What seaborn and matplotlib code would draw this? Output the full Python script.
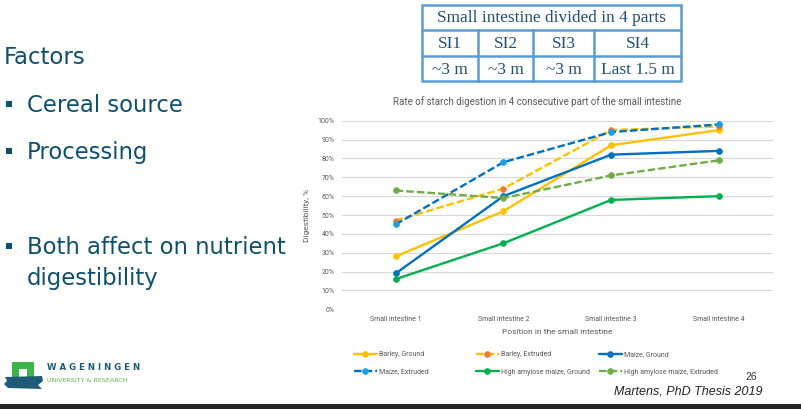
import matplotlib
matplotlib.use("Agg")
import matplotlib.pyplot as plt
import seaborn as sns
from matplotlib.patches import Rectangle, Polygon

# ==========================================
# Data
# ==========================================

positions = ["Small intestine 1", "Small intestine 2", "Small intestine 3", "Small intestine 4"]

barley_ground = [28, 52, 87, 95]
barley_extruded = [47, 64, 95, 97]
maize_ground = [19, 60, 82, 84]
maize_extruded = [45, 78, 94, 98]
ha_maize_ground = [16, 35, 58, 60]
ha_maize_extruded = [63, 59, 71, 79]

series_names = [
    "Barley, Ground",
    "Barley, Extruded",
    "Maize, Ground",
    "Maize, Extruded",
    "High amylose maize, Ground",
    "High amylose maize, Extruded",
]
series_values = [barley_ground, barley_extruded, maize_ground,
                 maize_extruded, ha_maize_ground, ha_maize_extruded]

y_ticks = [0, 10, 20, 30, 40, 50, 60, 70, 80, 90, 100]

table_header = "Small intestine divided in 4 parts"
table_parts = ["SI1", "SI2", "SI3", "SI4"]
table_lengths = ["~3 m", "~3 m", "~3 m", "Last 1.5 m"]

bullets = ["Cereal source", "Processing"]

# ==========================================
# Styles
# ==========================================

W, H = 801, 409
dash = (0, (3.2, 1.3))
styles = [
    dict(color="#FFC000", mfc="#FFC000", ls="-"),
    dict(color="#FFC000", mfc="#ED7D31", ls=dash),
    dict(color="#0070C0", mfc="#0070C0", ls="-"),
    dict(color="#0070C0", mfc="#1BA1E2", ls=dash),
    dict(color="#00B050", mfc="#00B050", ls="-"),
    dict(color="#70AD47", mfc="#70AD47", ls=dash),
]

sns.set_style("white")
plt.rcParams["font.family"] = ["Roboto", "DejaVu Sans"]

fig = plt.figure(figsize=(W / 100, H / 100), dpi=100)
fig.patch.set_facecolor("white")

# overlay axes in pixel coordinates for slide decoration
deco = fig.add_axes([0, 0, 1, 1])
deco.set_xlim(0, W)
deco.set_ylim(H, 0)
deco.axis("off")

# ==========================================
# Chart
# ==========================================

ax = fig.add_axes([341.7 / W, 1 - 309.3 / H, (773 - 341.7) / W, (309.3 - 120.7) / H])
ax.patch.set_alpha(0)

for name, vals, st in zip(series_names, series_values, styles):
    sns.lineplot(
        x=positions, y=vals, ax=ax, sort=False, label=name, legend=False,
        color=st["color"], linestyle=st["ls"], linewidth=1.7,
        marker="o", markersize=4.2, markerfacecolor=st["mfc"],
        markeredgecolor=st["mfc"], markeredgewidth=0.5, zorder=3,
    )

ax.set_xlim(-0.5, 3.5)
ax.set_ylim(0, 100)
ax.set_yticks(y_ticks)
ax.set_yticklabels([f"{v}%" for v in y_ticks])
ax.grid(axis="y", color="#D9D9D9", linewidth=0.8)
ax.grid(axis="x", visible=False)
for s in ax.spines.values():
    s.set_visible(False)
ax.tick_params(axis="both", length=0, labelsize=5, labelcolor="#595959")
ax.tick_params(axis="y", pad=5)
ax.tick_params(axis="x", pad=5)
ax.set_xlabel("Position in the small intestine", fontsize=6, color="#595959", labelpad=4)
ax.set_ylabel("Digestibility, %", fontsize=6, color="#595959", labelpad=6)
if ax.get_legend() is not None:
    ax.get_legend().remove()

fig.text(537 / W, 1 - 102 / H, "Rate of starch digestion in 4 consecutive part of the small intestine",
         ha="center", va="center", fontsize=7, color="#595959")

# legend laid out as 3 equal columns, row-major
handles, labels = ax.get_legend_handles_labels()
col_x = [354, 476, 599]
for c in range(3):
    idx = [c, c + 3]
    fig.legend([handles[i] for i in idx], [labels[i] for i in idx],
               loc="upper left", bbox_to_anchor=(col_x[c] / W, 1 - 351.5 / H),
               frameon=False, fontsize=5, handlelength=3.3, handletextpad=0.3,
               labelspacing=1.45, borderpad=0, borderaxespad=0,
               labelcolor="#595959")

# ==========================================
# Table (top)
# ==========================================

tcol = "#5B9BD5"
ttxt = "#1F4E79"
x0, x1 = 422, 681
ys = [5, 29.5, 56, 81]
xs = [422, 478, 533, 594, 681]
deco.add_patch(Rectangle((x0, ys[0]), x1 - x0, ys[3] - ys[0], fill=False, ec=tcol, lw=1.8))
for y in ys[1:3]:
    deco.plot([x0, x1], [y, y], color=tcol, lw=1.8)
for x in xs[1:4]:
    deco.plot([x, x], [ys[1], ys[3]], color=tcol, lw=1.8)
deco.text((x0 + x1) / 2, (ys[0] + ys[1]) / 2 + 1, table_header, ha="center", va="center",
          fontsize=12.4, color=ttxt, family="Liberation Serif")
for i in range(4):
    cx = (xs[i] + xs[i + 1]) / 2
    deco.text(cx, (ys[1] + ys[2]) / 2 + 1, table_parts[i], ha="center", va="center",
              fontsize=12.4, color=ttxt, family="Liberation Serif")
    deco.text(cx, (ys[2] + ys[3]) / 2 + 1, table_lengths[i], ha="center", va="center",
              fontsize=12.4, color=ttxt, family="Liberation Serif")

# ==========================================
# Left slide text
# ==========================================

tc = "#0D4F6E"
deco.text(4, 58, "Factors", ha="left", va="center", fontsize=16.5, color=tc, family="DejaVu Sans")
for y, t in zip([105, 152], bullets):
    deco.add_patch(Rectangle((6, y - 4), 6, 6, color=tc, lw=0))
    deco.text(27, y, t, ha="left", va="center", fontsize=16.4, color=tc, family="DejaVu Sans")
deco.add_patch(Rectangle((6, 243), 6, 6, color=tc, lw=0))
deco.text(27, 247, "Both affect on nutrient", ha="left", va="center", fontsize=16.4,
          color=tc, family="DejaVu Sans")
deco.text(27, 279, "digestibility", ha="left", va="center", fontsize=16.4,
          color=tc, family="DejaVu Sans")

# ==========================================
# Logo, footer
# ==========================================

deco.add_patch(Rectangle((12, 362), 22, 16, color="#3DB54A", lw=0))
deco.add_patch(Rectangle((19, 369), 8, 9, color="white", lw=0))
deco.add_patch(Polygon([[5, 377], [42, 376], [43, 381], [38, 385], [42, 389], [8, 388], [4, 384], [7, 381]],
                       closed=True, color="#1D5B79", lw=0))
deco.text(47, 367, "W A G E N I N G E N", ha="left", va="center", fontsize=6.2,
          color="#1D5B79", fontweight="bold", family="DejaVu Sans")
deco.text(47, 380, "UNIVERSITY & RESEARCH", ha="left", va="center", fontsize=4.6,
          color="#5DB947", family="DejaVu Sans")

deco.text(757, 377, "26", ha="right", va="center", fontsize=7.5, color="#333333",
          family="Liberation Sans")
deco.text(762, 392, "Martens, PhD Thesis 2019", ha="right", va="center", fontsize=9,
          color="#222222", style="italic", family="Liberation Sans")
deco.add_patch(Rectangle((0, 404), W, 6, color="#262626", lw=0))

plt.savefig("out.png", dpi=100)
